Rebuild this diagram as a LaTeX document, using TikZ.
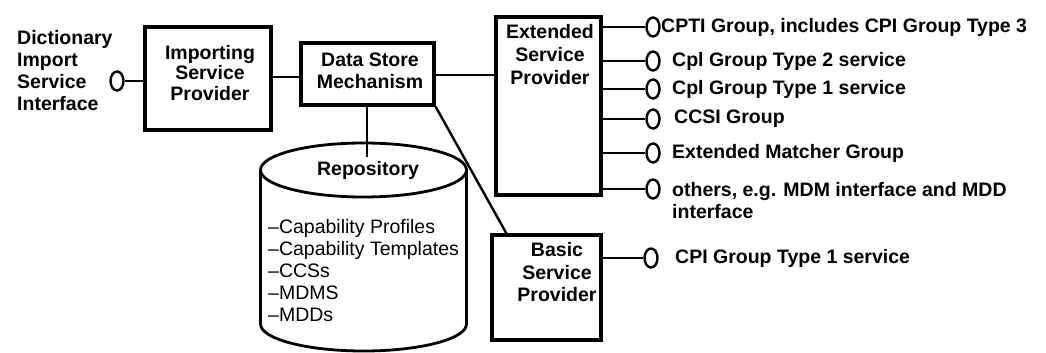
\documentclass[tikz,border=0pt]{standalone}
\usepackage{fontspec}
\setmainfont{Liberation Sans}
\usetikzlibrary{shapes.geometric}
\begin{document}
\begin{tikzpicture}[x=1pt,y=-1pt,
  box/.style={draw, line width=3.2pt, inner sep=0pt},
  wire/.style={line width=2.4pt},
  cyl/.style={line width=2.8pt},
  lolli/.style={draw, ellipse, line width=2.4pt, minimum width=13pt, minimum height=19pt, inner sep=0pt},
  txt/.style={font=\fontsize{19.5}{22}\selectfont\bfseries, inner sep=0pt, align=center},
  lbl/.style={font=\fontsize{19.5}{22}\selectfont\bfseries, inner sep=0pt, anchor=west, align=left},
]
\useasboundingbox (0,0) rectangle (1046,353);

% boxes
\node[box, minimum width=126pt, minimum height=103pt] (isp) at (208,78.5) {};
\node[box, minimum width=133pt, minimum height=62pt] (dsm) at (367.5,74) {};
\node[box, minimum width=105pt, minimum height=178pt] (esp) at (548.5,106) {};
\node[box, minimum width=109pt, minimum height=105pt] (bsp) at (546.5,287.5) {};

\node[txt, font=\fontsize{19.5}{20.5}\selectfont\bfseries] (isptxt) at (210,73) {Importing\\Service\\Provider};
\node[txt] (dsmtxt) at (370,71) {Data Store\\Mechanism};
\node[txt, font=\fontsize{19.5}{23}\selectfont\bfseries] (esptxt) at (550,55) {Extended\\Service\\Provider};
\node[txt, font=\fontsize{19.5}{22.5}\selectfont\bfseries] (bsptxt) at (557,272.5) {Basic\\Service\\Provider};

% dictionary interface
\node[lbl] (dictxt) at (17,71) {Dictionary\\Import\\Service\\Interface};
\node[lolli] (dil) at (117,81) {};
\draw[wire] (dil) -- (isp.west |- dil);

% repository
\draw[cyl] (363.5,170) ellipse [x radius=103pt, y radius=27pt];
\draw[cyl] (260.5,170) -- (260.5,324) arc[start angle=180, end angle=360, x radius=103pt, y radius=27pt] -- (466.5,170);
\coordinate (repin) at (367,157);
\node[txt] (reptitle) at (368,170) {Repository};
\node[lbl, font=\fontsize{19.5}{22}\selectfont] (replist) at (268,271) {--Capability Profiles\\--Capability Templates\\--CCSs\\--MDMS\\--MDDs};

% connectors between boxes
\draw[wire] (isp.east |- 0,77) -- (dsm.west |- 0,77);
\draw[wire] (dsm.east |- 0,75) -- (esp.west |- 0,75);
\draw[wire] (dsm.south -| repin) -- (repin);
\draw[wire] (dsm.south east) -- ([xshift=16pt]bsp.north west);

% extended interfaces
\node[lolli] (e1) at (653,27) {};
\node[lolli] (e2) at (653,61) {};
\node[lolli] (e3) at (653,89) {};
\node[lolli] (e4) at (653,119) {};
\node[lolli] (e5) at (653,153) {};
\node[lolli] (e6) at (653,189) {};
\foreach \n in {e1,e2,e3,e4,e5,e6} \draw[wire] (esp.east |- \n) -- (\n);

\node[lbl] (t1) at (661,27) {CPTI Group, includes CPI Group Type 3};
\node[lbl] (t2) at (672,61) {Cpl Group Type 2 service};
\node[lbl] (t3) at (672,89) {Cpl Group Type 1 service};
\node[lbl] (t4) at (674,119) {CCSI Group};
\node[lbl] (t5) at (672,153) {Extended Matcher Group};
\node[lbl, anchor=north west] (t6) at (672,182) {others, e.g. MDM interface and MDD\\interface};

% basic interface
\node[lolli] (b1) at (651,258) {};
\draw[wire] (bsp.east |- b1) -- (b1);
\node[lbl] (tb1) at (675,258) {CPI Group Type 1 service};
\end{tikzpicture}
\end{document}
